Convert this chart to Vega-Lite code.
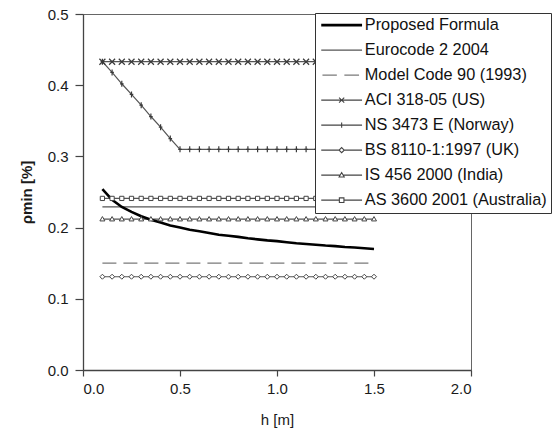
{
  "$schema": "https://vega.github.io/schema/vega-lite/v6.json",
  "width": 388,
  "height": 356,
  "autosize": {"type": "none"},
  "padding": {"left": 83, "top": 14, "right": 81, "bottom": 68},
  "background": "white",
  "config": {
    "font": "Liberation Sans",
    "view": {"stroke": "#666", "strokeWidth": 1},
    "axis": {
      "grid": false,
      "domainColor": "#444",
      "domainWidth": 1.3,
      "tickColor": "#444",
      "tickWidth": 1.2,
      "tickSize": 6,
      "labelFont": "Liberation Sans",
      "labelFontSize": 15,
      "labelColor": "#1a1a1a",
      "titleFont": "Liberation Sans",
      "titleFontSize": 15,
      "titleColor": "#1a1a1a"
    }
  },
  "data": {
    "values": [
      {"h": 0.1, "PF": 0.254, "EC": 0.229, "MC": 0.15, "ACI": 0.433, "NS": 0.433, "BS": 0.131, "IS": 0.212, "AS": 0.241},
      {"h": 0.15, "PF": 0.239, "EC": 0.229, "MC": 0.15, "ACI": 0.433, "NS": 0.418, "BS": 0.131, "IS": 0.212, "AS": 0.241},
      {"h": 0.2, "PF": 0.229, "EC": 0.229, "MC": 0.15, "ACI": 0.433, "NS": 0.402, "BS": 0.131, "IS": 0.212, "AS": 0.241},
      {"h": 0.25, "PF": 0.222, "EC": 0.229, "MC": 0.15, "ACI": 0.433, "NS": 0.387, "BS": 0.131, "IS": 0.212, "AS": 0.241},
      {"h": 0.3, "PF": 0.216, "EC": 0.229, "MC": 0.15, "ACI": 0.433, "NS": 0.372, "BS": 0.131, "IS": 0.212, "AS": 0.241},
      {"h": 0.35, "PF": 0.211, "EC": 0.229, "MC": 0.15, "ACI": 0.433, "NS": 0.356, "BS": 0.131, "IS": 0.212, "AS": 0.241},
      {"h": 0.4, "PF": 0.207, "EC": 0.229, "MC": 0.15, "ACI": 0.433, "NS": 0.341, "BS": 0.131, "IS": 0.212, "AS": 0.241},
      {"h": 0.45, "PF": 0.203, "EC": 0.229, "MC": 0.15, "ACI": 0.433, "NS": 0.325, "BS": 0.131, "IS": 0.212, "AS": 0.241},
      {"h": 0.5, "PF": 0.2, "EC": 0.229, "MC": 0.15, "ACI": 0.433, "NS": 0.31, "BS": 0.131, "IS": 0.212, "AS": 0.241},
      {"h": 0.55, "PF": 0.197, "EC": 0.229, "MC": 0.15, "ACI": 0.433, "NS": 0.31, "BS": 0.131, "IS": 0.212, "AS": 0.241},
      {"h": 0.6, "PF": 0.195, "EC": 0.229, "MC": 0.15, "ACI": 0.433, "NS": 0.31, "BS": 0.131, "IS": 0.212, "AS": 0.241},
      {"h": 0.65, "PF": 0.1925, "EC": 0.229, "MC": 0.15, "ACI": 0.433, "NS": 0.31, "BS": 0.131, "IS": 0.212, "AS": 0.241},
      {"h": 0.7, "PF": 0.19, "EC": 0.229, "MC": 0.15, "ACI": 0.433, "NS": 0.31, "BS": 0.131, "IS": 0.212, "AS": 0.241},
      {"h": 0.75, "PF": 0.1885, "EC": 0.229, "MC": 0.15, "ACI": 0.433, "NS": 0.31, "BS": 0.131, "IS": 0.212, "AS": 0.241},
      {"h": 0.8, "PF": 0.187, "EC": 0.229, "MC": 0.15, "ACI": 0.433, "NS": 0.31, "BS": 0.131, "IS": 0.212, "AS": 0.241},
      {"h": 0.85, "PF": 0.185, "EC": 0.229, "MC": 0.15, "ACI": 0.433, "NS": 0.31, "BS": 0.131, "IS": 0.212, "AS": 0.241},
      {"h": 0.9, "PF": 0.1835, "EC": 0.229, "MC": 0.15, "ACI": 0.433, "NS": 0.31, "BS": 0.131, "IS": 0.212, "AS": 0.241},
      {"h": 0.95, "PF": 0.182, "EC": 0.229, "MC": 0.15, "ACI": 0.433, "NS": 0.31, "BS": 0.131, "IS": 0.212, "AS": 0.241},
      {"h": 1.0, "PF": 0.181, "EC": 0.229, "MC": 0.15, "ACI": 0.433, "NS": 0.31, "BS": 0.131, "IS": 0.212, "AS": 0.241},
      {"h": 1.05, "PF": 0.1794, "EC": 0.229, "MC": 0.15, "ACI": 0.433, "NS": 0.31, "BS": 0.131, "IS": 0.212, "AS": 0.241},
      {"h": 1.1, "PF": 0.178, "EC": 0.229, "MC": 0.15, "ACI": 0.433, "NS": 0.31, "BS": 0.131, "IS": 0.212, "AS": 0.241},
      {"h": 1.15, "PF": 0.177, "EC": 0.229, "MC": 0.15, "ACI": 0.433, "NS": 0.31, "BS": 0.131, "IS": 0.212, "AS": 0.241},
      {"h": 1.2, "PF": 0.176, "EC": 0.229, "MC": 0.15, "ACI": 0.433, "NS": 0.31, "BS": 0.131, "IS": 0.212, "AS": 0.241},
      {"h": 1.25, "PF": 0.1748, "EC": 0.229, "MC": 0.15, "ACI": 0.433, "NS": 0.31, "BS": 0.131, "IS": 0.212, "AS": 0.241},
      {"h": 1.3, "PF": 0.174, "EC": 0.229, "MC": 0.15, "ACI": 0.433, "NS": 0.31, "BS": 0.131, "IS": 0.212, "AS": 0.241},
      {"h": 1.35, "PF": 0.1728, "EC": 0.229, "MC": 0.15, "ACI": 0.433, "NS": 0.31, "BS": 0.131, "IS": 0.212, "AS": 0.241},
      {"h": 1.4, "PF": 0.172, "EC": 0.229, "MC": 0.15, "ACI": 0.433, "NS": 0.31, "BS": 0.131, "IS": 0.212, "AS": 0.241},
      {"h": 1.45, "PF": 0.171, "EC": 0.229, "MC": 0.15, "ACI": 0.433, "NS": 0.31, "BS": 0.131, "IS": 0.212, "AS": 0.241},
      {"h": 1.5, "PF": 0.17, "EC": 0.229, "MC": 0.15, "ACI": 0.433, "NS": 0.31, "BS": 0.131, "IS": 0.212, "AS": 0.241}
    ]
  },
  "transform": [
    {"fold": ["PF", "EC", "MC", "ACI", "NS", "BS", "IS", "AS"], "as": ["series", "rho"]}
  ],
  "encoding": {
    "x": {
      "field": "h",
      "type": "quantitative",
      "scale": {"domain": [0, 2], "nice": false, "zero": false},
      "axis": {"values": [0, 0.5, 1, 1.5, 2], "format": ".1f", "title": "h [m]", "labelPadding": 5, "titlePadding": 16, "titleFontWeight": "normal"}
    },
    "y": {
      "field": "rho",
      "type": "quantitative",
      "scale": {"domain": [0, 0.5], "nice": false},
      "axis": {"values": [0, 0.1, 0.2, 0.3, 0.4, 0.5], "format": ".1f", "title": "ρmin [%]", "tickSize": 8, "labelPadding": 7, "titlePadding": 13, "titleFontWeight": "bold"}
    }
  },
  "layer": [
    {
      "transform": [{"filter": {"field": "series", "oneOf": ["EC", "ACI", "NS", "BS", "IS", "AS"]}}],
      "mark": {"type": "line", "stroke": "#555", "strokeWidth": 1.2},
      "encoding": {"detail": {"field": "series", "type": "nominal"}}
    },
    {
      "transform": [{"filter": {"field": "series", "equal": "MC"}}],
      "mark": {"type": "line", "stroke": "#7a7a7a", "strokeWidth": 1.2, "strokeDash": [14, 7]},
      "encoding": {}
    },
    {
      "transform": [{"filter": {"field": "series", "equal": "PF"}}],
      "mark": {"type": "line", "stroke": "#000", "strokeWidth": 2.6},
      "encoding": {}
    },
    {
      "transform": [{"filter": {"field": "series", "equal": "ACI"}}],
      "mark": {"type": "point", "shape": "M-1,-1L1,1M-1,1L1,-1", "size": 36, "stroke": "#3a3a3a", "strokeWidth": 1.2, "opacity": 1},
      "encoding": {}
    },
    {
      "transform": [{"filter": {"field": "series", "equal": "NS"}}],
      "mark": {"type": "point", "shape": "M0,-1V1M-0.6,0H0.6", "size": 36, "stroke": "#3a3a3a", "strokeWidth": 1.2, "opacity": 1},
      "encoding": {}
    },
    {
      "transform": [{"filter": {"field": "series", "equal": "BS"}}],
      "mark": {"type": "point", "shape": "M0,-1L1,0L0,1L-1,0Z", "size": 25, "stroke": "#444", "fill": "white", "fillOpacity": 1, "strokeWidth": 1, "opacity": 1},
      "encoding": {}
    },
    {
      "transform": [{"filter": {"field": "series", "equal": "IS"}}],
      "mark": {"type": "point", "shape": "M0,-1L1,0.75H-1Z", "size": 25, "stroke": "#444", "fill": "white", "fillOpacity": 1, "strokeWidth": 1, "opacity": 1},
      "encoding": {}
    },
    {
      "transform": [{"filter": {"field": "series", "equal": "AS"}}],
      "mark": {"type": "point", "shape": "M-0.85,-0.85H0.85V0.85H-0.85Z", "size": 25, "stroke": "#444", "fill": "white", "fillOpacity": 1, "strokeWidth": 1, "opacity": 1},
      "encoding": {}
    },
    {
      "transform": [{"filter": {"field": "h", "equal": 0.1}}],
      "mark": {"type": "point", "size": 144, "opacity": 0},
      "encoding": {
        "shape": {
          "field": "series",
          "type": "nominal",
          "scale": {
            "domain": ["PF", "EC", "MC", "ACI", "NS", "BS", "IS", "AS"],
            "range": [
              "M-3.4,0H3.4",
              "M-3.4,0H3.4",
              "M-3.2,0H-0.8M0.45,0H2.9",
              "M-3.4,0H3.4M-0.43,-0.43L0.43,0.43M-0.43,0.43L0.43,-0.43",
              "M-3.4,0H3.4M0,-0.45V0.45",
              "M-3.4,0H-0.43M0.43,0H3.4M-0.43,0L0,-0.43L0.43,0L0,0.43Z",
              "M-3.4,0H-0.25M0.25,0H3.4M-0.43,0.3L0,-0.43L0.43,0.3Z",
              "M-3.4,0H-0.38M0.38,0H3.4M-0.38,-0.38H0.38V0.38H-0.38Z"
            ]
          },
          "legend": {
            "title": null,
            "orient": "none",
            "legendX": 232,
            "legendY": -1,
            "padding": 4,
            "strokeColor": "#333",
            "fillColor": "white",
            "labelFont": "Liberation Sans",
            "labelFontSize": 16.3,
            "labelColor": "#111",
            "labelLimit": 300,
            "rowPadding": 8,
            "symbolOffset": 14.5,
            "labelOffset": 15,
            "symbolSize": 144,
            "labelExpr": "{'PF': 'Proposed Formula', 'EC': 'Eurocode 2 2004', 'MC': 'Model Code 90 (1993)', 'ACI': 'ACI 318-05 (US)', 'NS': 'NS 3473 E (Norway)', 'BS': 'BS 8110-1:1997 (UK)', 'IS': 'IS 456 2000 (India)', 'AS': 'AS 3600 2001 (Australia)'}[datum.label]"
          }
        },
        "color": {
          "field": "series",
          "type": "nominal",
          "scale": {
            "domain": ["PF", "EC", "MC", "ACI", "NS", "BS", "IS", "AS"],
            "range": ["#000", "#555", "#7a7a7a", "#444", "#444", "#444", "#444", "#444"]
          }
        },
        "strokeWidth": {
          "field": "series",
          "type": "nominal",
          "scale": {
            "type": "ordinal",
            "domain": ["PF", "EC", "MC", "ACI", "NS", "BS", "IS", "AS"],
            "range": [2.6, 1.1, 1.2, 1.1, 1.1, 1.1, 1.1, 1.1]
          }
        }
      }
    }
  ]
}
